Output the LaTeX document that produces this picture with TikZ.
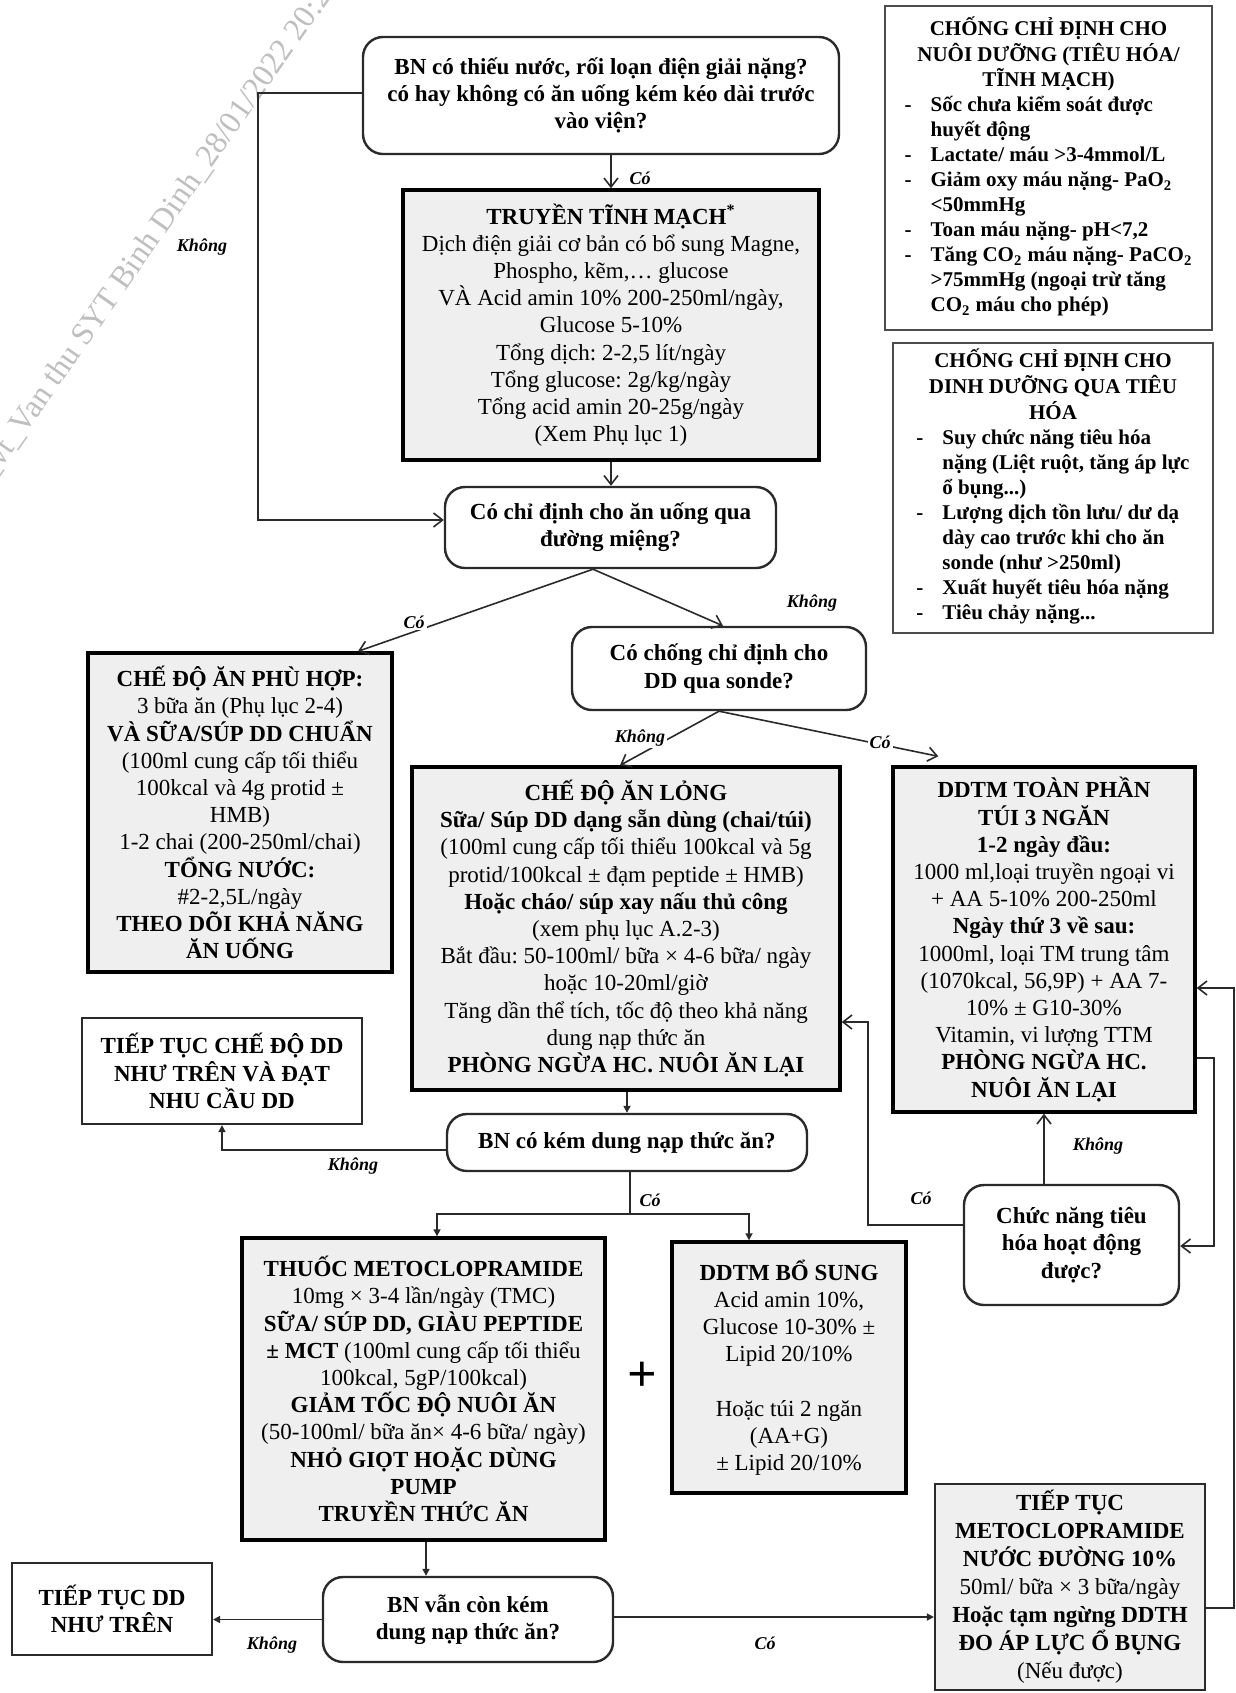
\documentclass[tikz,border=0pt]{standalone}
\usepackage{fontspec}
\setmainfont{Liberation Serif}
\usetikzlibrary{arrows.meta,calc}
\frenchspacing
\definecolor{boxfill}{HTML}{EFEFEF}
\definecolor{lncol}{HTML}{2A2A2A}
\newcommand\fmain{\fontsize{11.5}{13.6}\selectfont}
\newcommand\fci{\fontsize{10.5}{12.5}\selectfont}
\tikzset{
  x=0.5pt, y=-0.5pt,
  gbox/.style={draw=black, line width=1.7pt, fill=boxfill, align=center, font=\fmain, inner sep=2pt},
  mbox/.style={draw=lncol, line width=1.1pt, fill=boxfill, align=center, font=\fmain, inner sep=2pt},
  wbox/.style={draw=lncol, line width=1.1pt, fill=white, align=center, font=\fmain\bfseries, inner sep=2pt},
  qbox/.style={draw=lncol, line width=1.2pt, fill=white, rounded corners=10pt, align=center, font=\fmain\bfseries, inner sep=2pt},
  cibox/.style={draw=black!70, line width=1.1pt, fill=white, font=\fci\bfseries, inner sep=2pt},
  lab/.style={font=\fontsize{9}{10}\selectfont\bfseries\itshape, inner sep=1pt},
  conn/.style={draw=lncol, line width=0.8pt},
  arr/.style={conn, -{Straight Barb[length=4.5pt,width=7pt,line width=0.8pt]}},
  arrf/.style={conn, -{Triangle[length=3.5pt,width=3.5pt]}},
}
\begin{document}
\begin{tikzpicture}
\useasboundingbox (0,0) rectangle (1236,1693);
\fill[white] (0,0) rectangle (1236,1693);
% watermark
\begin{scope}
\clip (0,0) rectangle (1236,1693);
\node[rotate=55, anchor=base west, text=black!25, font=\fontsize{16}{16}\selectfont, inner sep=0pt] (wm) at (-8,482) {\_vt\_Van thu SYT Binh Dinh\_28/01/2022 20:22};
\end{scope}

% boxes
\node[qbox, minimum width=238pt, minimum height=58.5pt] (q1) at (601,95.5)
 {BN có thiếu nước, rối loạn điện giải nặng?\\có hay không có ăn uống kém kéo dài trước\\vào viện?};
\node[gbox, minimum width=208pt, minimum height=135pt] (iv) at (611,325)
 {\textbf{TRUYỀN TĨNH MẠCH\textsuperscript{*}}\\Dịch điện giải cơ bản có bổ sung Magne,\\Phospho, kẽm,… glucose\\VÀ Acid amin 10\% 200-250ml/ngày,\\Glucose 5-10\%\\Tổng dịch: 2-2,5 lít/ngày\\Tổng glucose: 2g/kg/ngày\\Tổng acid amin 20-25g/ngày\\(Xem Phụ lục 1)};
\node[qbox, minimum width=165.5pt, minimum height=40.5pt] (q2) at (610.5,527.5)
 {Có chỉ định cho ăn uống qua\\đường miệng?};
\node[gbox, minimum width=152pt, minimum height=159.5pt] (oral) at (240,812.5)
 {\textbf{CHẾ ĐỘ ĂN PHÙ HỢP:}\\3 bữa ăn (Phụ lục 2-4)\\\textbf{VÀ SỮA/SÚP DD CHUẨN}\\(100ml cung cấp tối thiểu\\100kcal và 4g protid ±\\HMB)\\1-2 chai (200-250ml/chai)\\\textbf{TỔNG NƯỚC:}\\\#2-2,5L/ngày\\\textbf{THEO DÕI KHẢ NĂNG}\\\textbf{ĂN UỐNG}};
\node[qbox, minimum width=147pt, minimum height=41.5pt] (q3) at (719,668.5)
 {Có chống chỉ định cho\\DD qua sonde?};
\node[gbox, minimum width=214pt, minimum height=161.5pt] (liquid) at (626,928.5)
 {\textbf{CHẾ ĐỘ ĂN LỎNG}\\\textbf{Sữa/ Súp DD dạng sẵn dùng (chai/túi)}\\(100ml cung cấp tối thiểu 100kcal và 5g\\protid/100kcal ± đạm peptide ± HMB)\\\textbf{Hoặc cháo/ súp xay nấu thủ công}\\(xem phụ lục A.2-3)\\Bắt đầu: 50-100ml/ bữa × 4-6 bữa/ ngày\\hoặc 10-20ml/giờ\\Tăng dần thể tích, tốc độ theo khả năng\\dung nạp thức ăn\\\textbf{PHÒNG NGỪA HC. NUÔI ĂN LẠI}};
\node[gbox, minimum width=151pt, minimum height=172.5pt] (tpn) at (1044,939.5)
 {\textbf{DDTM TOÀN PHẦN}\\\textbf{TÚI 3 NGĂN}\\\textbf{1-2 ngày đầu:}\\1000 ml,loại truyền ngoại vi\\+ AA 5-10\% 200-250ml\\\textbf{Ngày thứ 3 về sau:}\\1000ml, loại TM trung tâm\\(1070kcal, 56,9P) + AA 7-\\10\% ± G10-30\%\\Vitamin, vi lượng TTM\\\textbf{PHÒNG NGỪA HC.}\\\textbf{NUÔI ĂN LẠI}};
\node[wbox, minimum width=140pt, minimum height=53pt] (cont1) at (222,1071)
 {TIẾP TỤC CHẾ ĐỘ DD\\NHƯ TRÊN VÀ ĐẠT\\NHU CẦU DD};
\node[qbox, minimum width=180pt, minimum height=28.5pt] (q4) at (627,1142.5)
 {BN có kém dung nạp thức ăn?};
\node[gbox, minimum width=181.5pt, minimum height=151pt] (meto) at (423.5,1389)
 {\textbf{THUỐC METOCLOPRAMIDE}\\10mg × 3-4 lần/ngày (TMC)\\\textbf{SỮA/ SÚP DD, GIÀU PEPTIDE}\\\textbf{± MCT} (100ml cung cấp tối thiểu\\100kcal, 5gP/100kcal)\\\textbf{GIẢM TỐC ĐỘ NUÔI ĂN}\\(50-100ml/ bữa ăn× 4-6 bữa/ ngày)\\\textbf{NHỎ GIỌT HOẶC DÙNG}\\\textbf{PUMP}\\\textbf{TRUYỀN THỨC ĂN}};
\node[font=\fontsize{26}{26}\selectfont\bfseries] (plus) at (642,1377) {+};
\node[gbox, minimum width=117pt, minimum height=125.5pt] (ppn) at (789,1367.5)
 {\textbf{DDTM BỔ SUNG}\\Acid amin 10\%,\\Glucose 10-30\% ±\\Lipid 20/10\%\\\mbox{}\\Hoặc túi 2 ngăn\\(AA+G)\\± Lipid 20/10\%};
\node[qbox, minimum width=107.5pt, minimum height=60pt] (q5) at (1071.5,1245)
 {Chức năng tiêu\\hóa hoạt động\\được?};
\node[wbox, minimum width=100pt, minimum height=46pt] (cont2) at (112,1609)
 {TIẾP TỤC DD\\NHƯ TRÊN};
\node[qbox, minimum width=145pt, minimum height=42.5pt] (q6) at (468,1619.5)
 {BN vẫn còn kém\\dung nạp thức ăn?};
\node[mbox, minimum width=135pt, minimum height=103pt, font=\fontsize{11.5}{14}\selectfont] (meto2) at (1070,1587)
 {\textbf{TIẾP TỤC}\\\textbf{METOCLOPRAMIDE}\\\textbf{NƯỚC ĐƯỜNG 10\%}\\50ml/ bữa × 3 bữa/ngày\\\textbf{Hoặc tạm ngừng DDTH}\\\textbf{ĐO ÁP LỰC Ổ BỤNG}\\(Nếu được)};
\node[cibox, minimum width=163.5pt, minimum height=162pt] (ci1) at (1048.5,168)
 {\begin{tabular}{@{}p{13pt}@{}l@{}}
 \multicolumn{2}{c}{CHỐNG CHỈ ĐỊNH CHO}\\
 \multicolumn{2}{c}{NUÔI DƯỠNG (TIÊU HÓA/}\\
 \multicolumn{2}{c}{TĨNH MẠCH)}\\
 -&Sốc chưa kiểm soát được\\
 &huyết động\\
 -&Lactate/ máu >3-4mmol/L\\
 -&Giảm oxy máu nặng- PaO\textsubscript{2}\\
 &<50mmHg\\
 -&Toan máu nặng- pH<7,2\\
 -&Tăng CO\textsubscript{2} máu nặng- PaCO\textsubscript{2}\\
 &>75mmHg (ngoại trừ tăng\\
 &CO\textsubscript{2} máu cho phép)
 \end{tabular}};
\node[cibox, minimum width=160pt, minimum height=145pt] (ci2) at (1053,488)
 {\begin{tabular}{@{}p{13pt}@{}l@{}}
 \multicolumn{2}{c}{CHỐNG CHỈ ĐỊNH CHO}\\
 \multicolumn{2}{c}{DINH DƯỠNG QUA TIÊU}\\
 \multicolumn{2}{c}{HÓA}\\
 -&Suy chức năng tiêu hóa\\
 &nặng (Liệt ruột, tăng áp lực\\
 &ổ bụng...)\\
 -&Lượng dịch tồn lưu/ dư dạ\\
 &dày cao trước khi cho ăn\\
 &sonde (như >250ml)\\
 -&Xuất huyết tiêu hóa nặng\\
 -&Tiêu chảy nặng...
 \end{tabular}};

% connectors
\draw[arr] ([xshift=5pt]q1.south) -- (iv.north);
\draw[arr] ([yshift=1.25pt]q1.west) -- ++(-104,0) |- ([yshift=3.75pt]q2.west);
\draw[arr] (iv.south) -- (iv.south |- q2.north);
\draw[arr] ([xshift=-8.75pt]q2.south) -- ([xshift=59pt]oral.north);
\draw[arr] ([xshift=-8.75pt]q2.south) -- ([xshift=2pt]q3.north);
\draw[arr] (q3.south) -- ([xshift=-3pt]liquid.north);
\draw[arr] (q3.south) -- ([xshift=23.5pt,yshift=4.5pt]tpn.north west);
\draw[arrf] (q4.north |- liquid.south) -- (q4.north);
\draw[arrf] ([yshift=-3.75pt]q4.west) -| (cont1.south);
\draw[conn] ([xshift=1.5pt]q4.south) -- ++(0,42) coordinate (jn);
\draw[arrf] (jn) -| ([xshift=6.75pt]meto.north);
\draw[arrf] (jn) -| ([xshift=-20pt]ppn.north);
\draw[arrf] ([xshift=1.25pt]meto.south) -- ([xshift=1.25pt]meto.south |- q6.north);
\draw[arrf] (q6.west) -- (q6.west -| cont2.east);
\draw[arrf] ([yshift=1.25pt]q6.east) -- ([yshift=1.25pt]q6.east -| meto2.west);
\draw[arr] ([yshift=-10.5pt]meto2.east) -- ++(28,0) |- ([yshift=-24.25pt]tpn.east);
\draw[arr] ([yshift=-59.25pt]tpn.east) -- ++(17,0) |- ([yshift=-0.5pt]q5.east);
\draw[arr] (tpn.south |- q5.north) -- (tpn.south);
\draw[arr] ([yshift=10pt]q5.west) -- ++(-95,0) |- ([yshift=-46.75pt]liquid.east);

% labels
\node[lab] (l1) at (640,178) {Có};
\node[lab] (l2) at (202,247) {Không};
\node[lab, fill=white] (l3) at (414,622) {Có};
\node[lab] (l4) at (812,603) {Không};
\node[lab, fill=white] (l5) at (640,738) {Không};
\node[lab, fill=white] (l6) at (880,742) {Có};
\node[lab] (l7) at (353,1166) {Không};
\node[lab] (l8) at (650,1200) {Có};
\node[lab] (l9) at (1098,1146) {Không};
\node[lab] (l10) at (921,1198) {Có};
\node[lab] (l11) at (272,1645) {Không};
\node[lab] (l12) at (765,1643) {Có};
\end{tikzpicture}
\end{document}
